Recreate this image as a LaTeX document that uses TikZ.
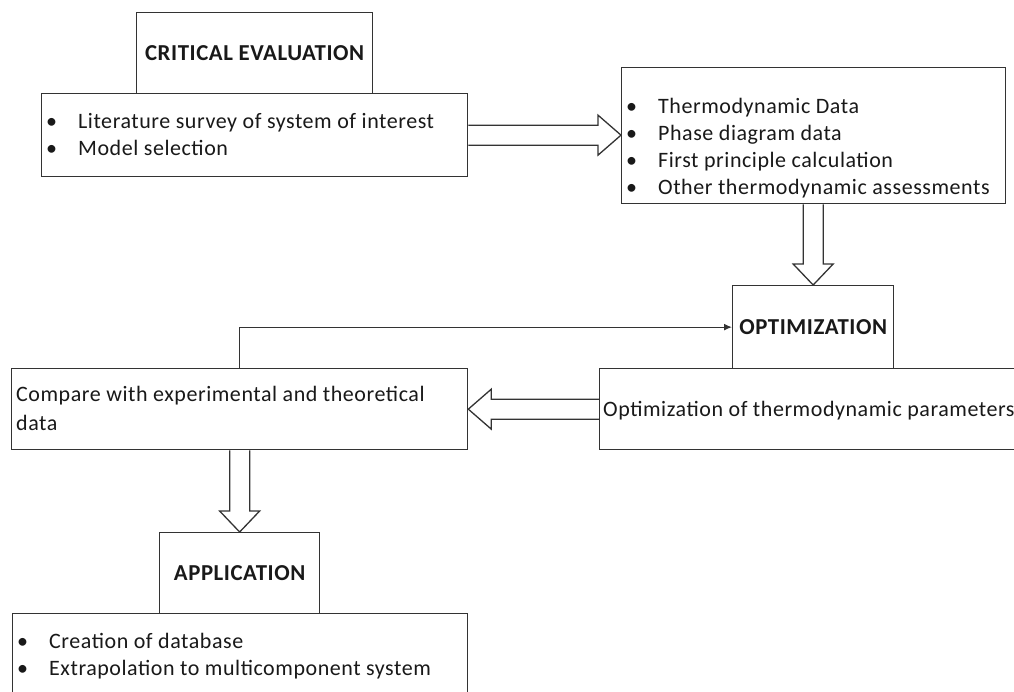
\documentclass[tikz,border=0pt]{standalone}
\usepackage{fontspec}
\setmainfont{Carlito}[LetterSpace=2.5]
\usetikzlibrary{calc,arrows.meta}

% bullet row: bullet in a fixed-width slot, then the item text
\newcommand\bul[2][32pt]{\makebox[#1][l]{\textbullet}#2}
% list of rows whose baseline is the first row
\newcommand\rows[1]{\begin{tabular}[t]{@{}l@{}}#1\end{tabular}}

% hollow block arrows between two points (start, tip)
\newcommand\blockright[2]{\draw[link] let \p1=#1, \p2=#2 in
  (\x1,\y1+10pt) -- (\x2-23pt,\y1+10pt) -- (\x2-23pt,\y1+20pt) -- (\x2,\y1)
  -- (\x2-23pt,\y1-20pt) -- (\x2-23pt,\y1-10pt) -- (\x1,\y1-10pt);}
\newcommand\blockleft[2]{\draw[link] let \p1=#1, \p2=#2 in
  (\x1,\y1+10pt) -- (\x2+23pt,\y1+10pt) -- (\x2+23pt,\y1+20pt) -- (\x2,\y1)
  -- (\x2+23pt,\y1-20pt) -- (\x2+23pt,\y1-10pt) -- (\x1,\y1-10pt);}
\newcommand\blockdown[2]{\draw[link] let \p1=#1, \p2=#2 in
  (\x1-10pt,\y1) -- (\x1-10pt,\y2+21pt) -- (\x1-20pt,\y2+21pt) -- (\x2,\y2)
  -- (\x1+20pt,\y2+21pt) -- (\x1+10pt,\y2+21pt) -- (\x1+10pt,\y1);}

\tikzset{
  frame/.style={draw=black!80, line width=1.3pt, fill=white, inner sep=0pt,
    anchor=north west, text=black!90},
  title/.style={font=\fontsize{22.8}{26}\selectfont\bfseries},
  body/.style={font=\fontsize{22}{27}\selectfont, inner sep=0pt,
    anchor=base west, text=black!90},
  link/.style={draw=black!80, line width=1.3pt, line join=miter},
}

\begin{document}
\begin{tikzpicture}[x=1pt,y=-1pt]
\useasboundingbox (0,0) rectangle (1014,691);
\clip (0,0) rectangle (1014,691);

% boxes
\node[frame, title, minimum width=236, minimum height=81] (crit) at (136,12) {CRITICAL EVALUATION};
\node[frame, minimum width=426, minimum height=83] (lit) at (41,93) {};
\node[frame, minimum width=384, minimum height=136] (data) at (621,67) {};
\node[frame, title, minimum width=161, minimum height=83] (opt) at (732,285) {OPTIMIZATION};
\node[frame, minimum width=440, minimum height=81] (param) at (599,368) {};
\node[frame, minimum width=456, minimum height=81] (cmp) at (11,368) {};
\node[frame, title, minimum width=160, minimum height=81] (app) at (159,532) {APPLICATION};
\node[frame, minimum width=455, minimum height=110] (use) at (12,613) {};

% box texts
\node[body] (lit-text) at (46,128) {\rows{\bul{Literature survey of system of interest}\\
  \bul{Model selection}}};
\node[body] (data-text) at (626,113) {\rows{\bul{Thermodynamic Data}\\
  \bul{Phase diagram data}\\ \bul{First principle calculation}\\
  \bul{Other thermodynamic assessments}}};
\node[body] (param-text) at (603,416) {Optimization of thermodynamic parameters};
\node[body, font=\fontsize{22}{29}\selectfont] (cmp-text) at (16,401)
  {\rows{Compare with experimental and theoretical\\ data}};
\node[body] (use-text) at (17,648) {\rows{\bul{Creation of database}\\
  \bul{Extrapolation to multicomponent system}}};

% block arrows
\blockright{(lit.east)}{(lit.east -| data.west)}
\blockdown{(opt.north |- data.south)}{(opt.north)}
\blockleft{(param.west)}{(param.west -| cmp.east)}
\blockdown{(app.north |- cmp.south)}{(app.north)}

% feedback connector
\draw[link, -{Latex[length=8pt,width=7pt]}] (cmp.north) |- (opt.west);
\end{tikzpicture}
\end{document}
